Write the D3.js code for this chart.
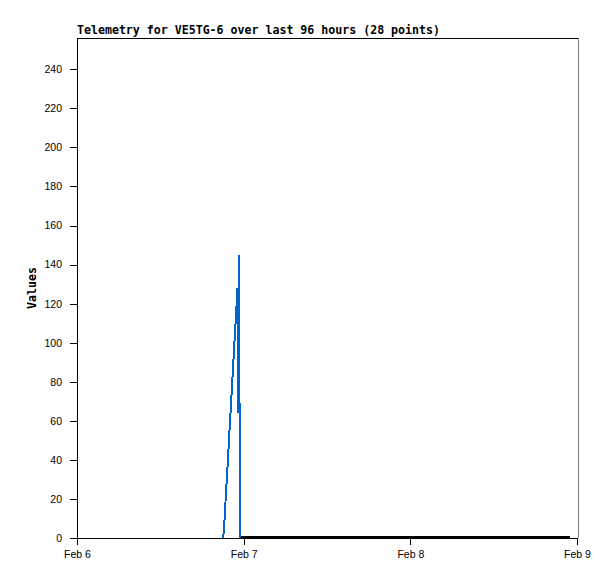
<!DOCTYPE html>
<html>
<head>
<meta charset="utf-8">
<script src="https://cdn.jsdelivr.net/npm/d3@7"></script>
<style>
  body { margin: 0; background: #fff; }
  svg { display: block; }
</style>
</head>
<body>
<svg></svg>
<script>
// 資料
const chartTitle = "Telemetry for VE5TG-6 over last 96 hours (28 points)";
const yLabel = "Values";
const blueTimes = ["2023-02-06T21:01","2023-02-06T21:10","2023-02-06T21:19","2023-02-06T21:27",
  "2023-02-06T21:36","2023-02-06T21:45","2023-02-06T21:53","2023-02-06T22:02","2023-02-06T22:11",
  "2023-02-06T22:19","2023-02-06T22:28","2023-02-06T22:36","2023-02-06T22:45","2023-02-06T22:54",
  "2023-02-06T23:02","2023-02-06T23:07","2023-02-06T23:15","2023-02-06T23:22","2023-02-06T23:26"];
const blueValues = [0, 4, 14, 23, 32, 41, 50, 60, 68, 78, 87, 96, 105, 114, 123, 128, 64, 145, 0];
const blackTimes = ["2023-02-06T23:30","2023-02-07T05:00","2023-02-07T11:00","2023-02-07T17:00",
  "2023-02-07T23:00","2023-02-08T05:00","2023-02-08T11:00","2023-02-08T17:00","2023-02-08T23:00"];
const blackValues = [0, 0, 0, 0, 0, 0, 0, 0, 0];
const yTicks = [0, 20, 40, 60, 80, 100, 120, 140, 160, 180, 200, 220, 240];
const xTicks = ["2023-02-06T00:00","2023-02-07T00:00","2023-02-08T00:00","2023-02-09T00:00"];

// 畫布尺寸
const svgSize = { width: 615, height: 579 };
const margin = { top: 38, right: 37, bottom: 41, left: 77 };
var width = svgSize.width - margin.left - margin.right;
var height = svgSize.height - margin.top - margin.bottom;

var svg = d3.select("svg")
  .attr("width", svgSize.width)
  .attr("height", svgSize.height);

svg.append("rect")
  .attr("width", svgSize.width)
  .attr("height", svgSize.height)
  .attr("fill", "#fff");

var chart = svg.append("g")
  .attr("transform", `translate(${margin.left},${margin.top})`);

var x = d3.scaleTime()
  .domain([new Date(xTicks[0]), new Date(xTicks[3])])
  .range([0, width - 1]);

var y = d3.scaleLinear()
  .domain([0, 256])
  .range([height, 0]);

// 外框
chart.append("line")
  .attr("x1", 0).attr("x2", width).attr("y1", 0.5).attr("y2", 0.5)
  .attr("stroke", "#000").attr("shape-rendering", "crispEdges");
chart.append("line")
  .attr("x1", width + 0.5).attr("x2", width + 0.5).attr("y1", 0).attr("y2", height)
  .attr("stroke", "#777").attr("shape-rendering", "crispEdges");

// 軸
var yAxis = d3.axisLeft(y)
  .tickValues(yTicks)
  .tickSize(7)
  .tickPadding(8);
var gy = chart.append("g").call(yAxis);

var xAxis = d3.axisBottom(x)
  .tickValues(xTicks.map(d => new Date(d)))
  .tickSize(7)
  .tickPadding(6)
  .tickFormat(d3.timeFormat("%b %-d"));
var gx = chart.append("g")
  .attr("transform", `translate(0,${height})`)
  .call(xAxis);

[gx, gy].forEach(g => {
  g.selectAll("path, line").attr("stroke", "#000").attr("shape-rendering", "crispEdges");
  g.selectAll("text")
    .attr("fill", "#000")
    .style("font-family", "'Liberation Sans', Arial, sans-serif")
    .style("font-size", "10.5px");
});
gx.select(".domain").attr("d", `M0,0.5H${width}`);
gy.select(".domain").attr("d", `M0.5,0V${height}`);

// 線
var line = d3.line()
  .x(d => x(d.t))
  .y(d => y(d.v));

var blackData = blackTimes.map((t, i) => ({ t: new Date(t), v: blackValues[i] }));
var blueData = blueTimes.map((t, i) => ({ t: new Date(t), v: blueValues[i] }));

chart.append("path")
  .datum(blackData)
  .attr("d", line)
  .attr("fill", "none")
  .attr("stroke", "#000")
  .attr("stroke-width", 2)
  .attr("shape-rendering", "crispEdges")
  .attr("transform", "translate(0,-1)");

chart.append("path")
  .datum(blueData)
  .attr("d", line)
  .attr("fill", "none")
  .attr("stroke", "#0066cc")
  .attr("stroke-width", 2)
  .attr("shape-rendering", "crispEdges")
  .attr("stroke-linejoin", "miter");

// 標題
svg.append("text")
  .attr("x", margin.left)
  .attr("y", 34)
  .style("font-family", "'DejaVu Sans Mono', monospace")
  .style("font-weight", "bold")
  .style("font-size", "11.6px")
  .text(chartTitle);

svg.append("text")
  .attr("transform", `translate(36,${margin.top + height / 2}) rotate(-90)`)
  .attr("text-anchor", "middle")
  .style("font-family", "'DejaVu Sans Mono', monospace")
  .style("font-weight", "bold")
  .style("font-size", "11.6px")
  .text(yLabel);
</script>
</body>
</html>
